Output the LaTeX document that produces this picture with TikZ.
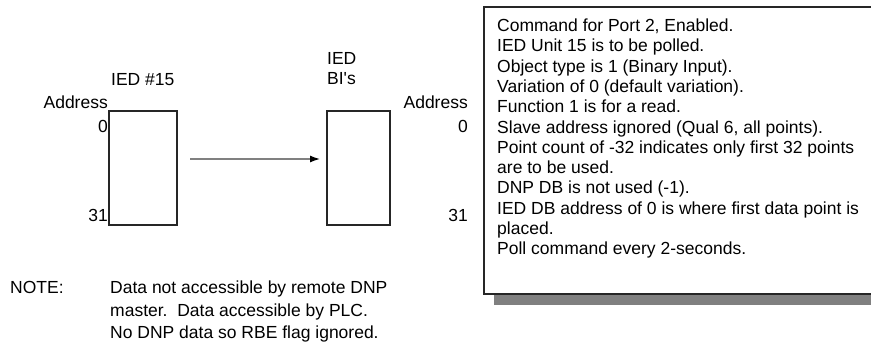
\documentclass[tikz,border=0pt]{standalone}
\usepackage{fontspec}
\setmainfont{Liberation Sans}
\usetikzlibrary{arrows.meta}
\begin{document}
\begin{tikzpicture}[x=1pt,y=-1pt,
  lbl/.style={inner sep=0pt,font=\fontsize{17.5}{20.3}\selectfont},
  membox/.style={draw=black!85,line width=1.3pt,inner sep=0pt},
  frameline/.style={draw=black!85,line width=1.6pt},
  flow/.style={draw=black!50,line width=2.2pt,-{Latex[length=11pt,width=7pt,black]}}]
\useasboundingbox (0,0) rectangle (871,343);
% memory boxes
\node[membox,minimum width=68pt,minimum height=114pt] (ledbox) at (143,168) {};
\node[membox,minimum width=63pt,minimum height=114pt] (bibox) at (358.5,168) {};
% left labels
\node[lbl,anchor=base west] (ied15) at (111,85) {IED \#15};
\node[lbl,anchor=base east] (addrL) at (108,108) {Address};
\node[lbl,anchor=base east] (zeroL) at (108,132) {0};
\node[lbl,anchor=base east] (thirtyoneL) at (108,221) {31};
% right labels
\node[lbl,anchor=base west] (iedR) at (327,64) {IED};
\node[lbl,anchor=base west] (bisR) at (327,84) {BI\textquotesingle s};
\node[lbl,anchor=base east] (addrR) at (468,108) {Address};
\node[lbl,anchor=base east] (zeroR) at (468,132) {0};
\node[lbl,anchor=base east] (thirtyoneR) at (468,221) {31};
% arrow
\coordinate (arrS) at (190,159);
\coordinate (arrE) at (321,159);
\draw[flow] (arrS) -- (arrE);
% command box with shadow
\fill[black!50] (494,294) rectangle (871,305);
\fill[white] (484,7) rectangle (871,294);
\draw[frameline] (871,7) -- (484,7) -- (484,294) -- (871,294);
\node[lbl,anchor=north west,align=left] (cmd) at (497,18.7) {Command for Port 2, Enabled.\\
IED Unit 15 is to be polled.\\
Object type is 1 (Binary Input).\\
Variation of 0 (default variation).\\
Function 1 is for a read.\\
Slave address ignored (Qual 6, all points).\\
Point count of -32 indicates only first 32 points\\
are to be used.\\
DNP DB is not used (-1).\\
IED DB address of 0 is where first data point is\\
placed.\\
Poll command every 2-seconds.};
% note
\node[lbl,anchor=base west] (notehd) at (10,293) {NOTE:};
\node[lbl,anchor=base west] (note1) at (110,293) {Data not accessible by remote DNP};
\node[lbl,anchor=base west] (note2) at (110,316) {master.\ \ Data accessible by PLC.};
\node[lbl,anchor=base west] (note3) at (110,338) {No DNP data so RBE flag ignored.};
\end{tikzpicture}
\end{document}
